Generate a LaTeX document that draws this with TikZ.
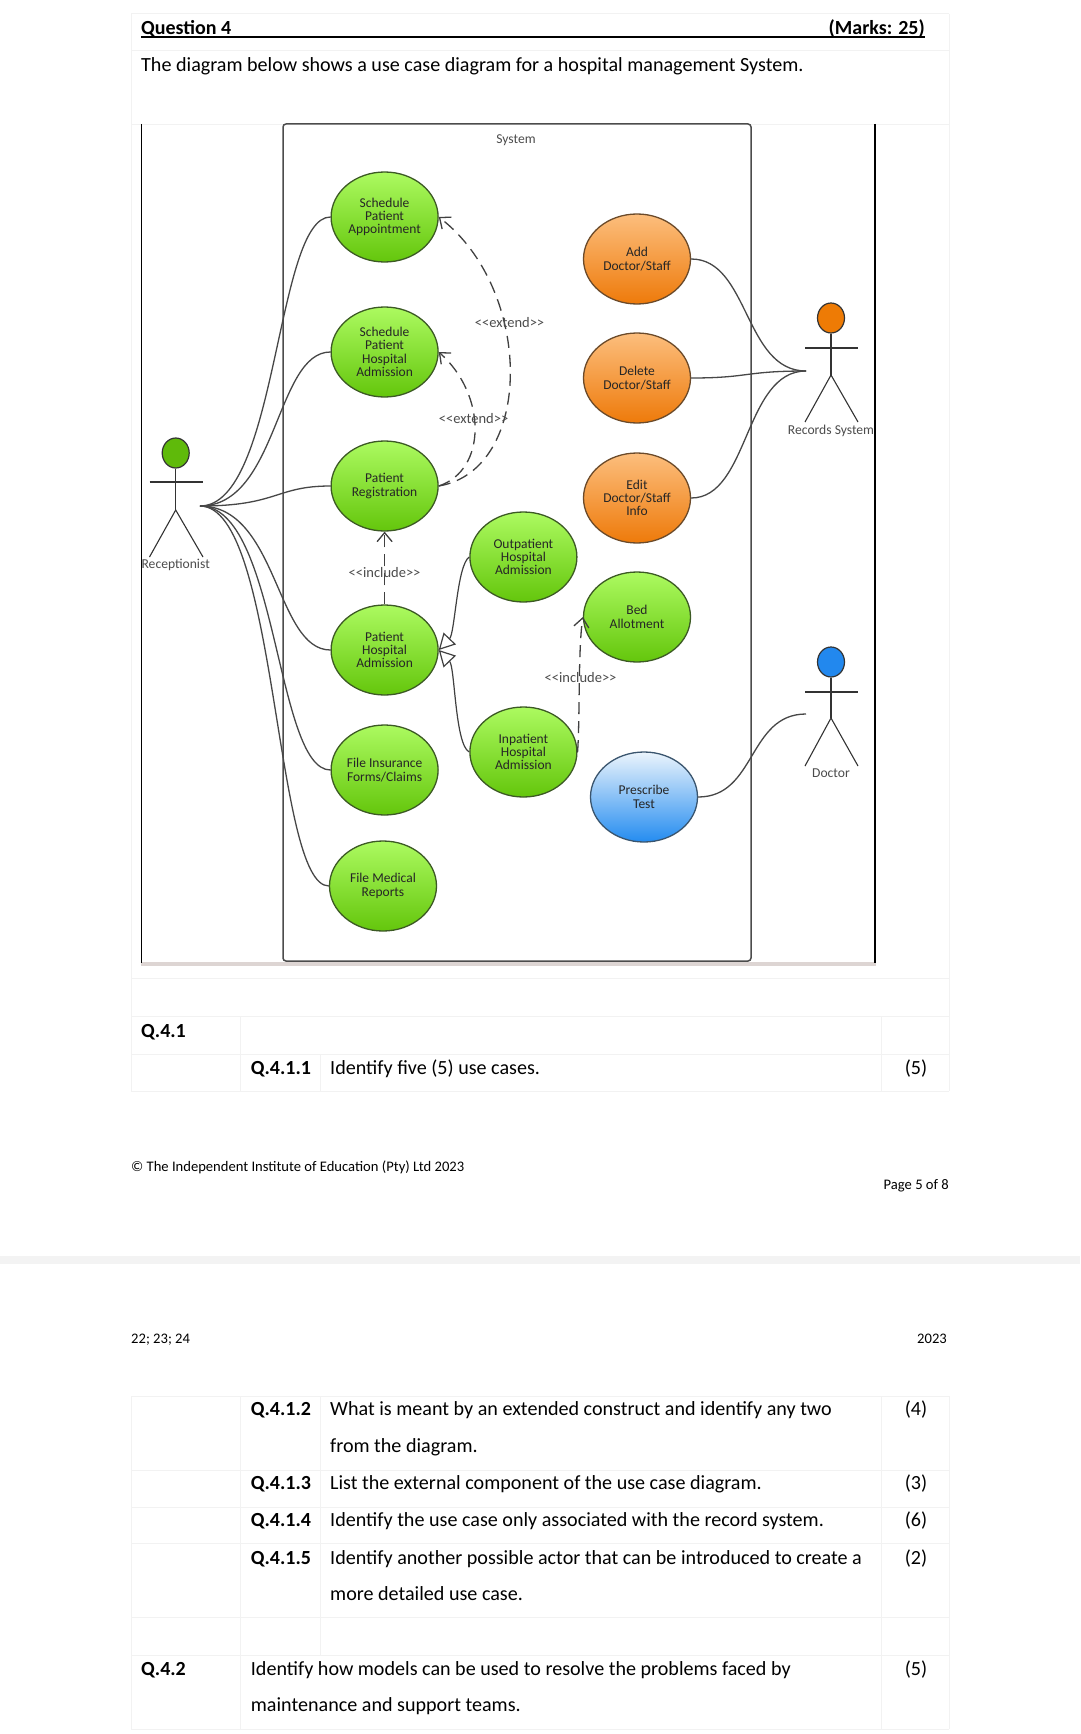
\documentclass[tikz,border=0pt]{standalone}
\usepackage{fontspec}
\setmainfont{Carlito}
\usepackage{tikz}
\usetikzlibrary{shapes.geometric, arrows.meta, positioning}
\definecolor{gridgray}{HTML}{F2F2F2}
\definecolor{bandgray}{HTML}{F3F3F3}
\definecolor{shadegray}{HTML}{DDD5D3}
\definecolor{edgegreen}{HTML}{3C5A24}
\definecolor{edgeorange}{HTML}{6B4A2A}
\definecolor{edgeblue}{HTML}{3A556E}
\tikzstyle{usecase} = [ellipse, draw, line width=1.3pt, minimum width=107pt, minimum height=90pt, inner sep=0pt, align=center, text=black!85, font=\fontsize{13.5}{13.3}\selectfont]
\tikzstyle{greencase} = [usecase, draw=edgegreen, top color={rgb,255:red,172;green,250;blue,96}, bottom color={rgb,255:red,100;green,198;blue,12}]
\tikzstyle{orangecase} = [usecase, draw=edgeorange, top color={rgb,255:red,252;green,190;blue,125}, bottom color={rgb,255:red,238;green,122;blue,10}]
\tikzstyle{bluecase} = [usecase, draw=edgeblue, top color={rgb,255:red,235;green,244;blue,252}, bottom color={rgb,255:red,36;green,140;blue,240}]
\tikzstyle{head} = [ellipse, draw=black!80, line width=1.2pt, minimum width=27pt, minimum height=30pt, inner sep=0pt]
\tikzstyle{limb} = [-, line width=1.1pt, black!80]
\tikzstyle{assoc} = [-, line width=1.3pt, black!72]
\tikzstyle{dep} = [-{Straight Barb[length=9pt,width=15pt]}, line width=1.3pt, black!75, dash pattern=on 12pt off 7pt]
\tikzstyle{gen} = [-{Triangle[open,fill=white,length=16pt,width=17pt]}, line width=1.2pt, black!75]
\tikzstyle{small} = [text=black!70, font=\fontsize{13.6}{14}\selectfont, inner sep=0pt]
\tikzstyle{deplabel} = [small, font=\fontsize{14.5}{14}\selectfont]
\tikzstyle{gridline} = [-, line width=1pt, gridgray]
\tikzstyle{txt} = [anchor=west, inner sep=0pt, font=\fontsize{20.1}{20}\selectfont, text height=17pt, text depth=4pt]
\tikzstyle{txtb} = [txt, font=\fontsize{20}{20}\selectfont\bfseries]
\tikzstyle{score} = [anchor=center, inner sep=0pt, font=\fontsize{20.1}{20}\selectfont, text height=17pt, text depth=4pt]
\tikzstyle{foot} = [inner sep=0pt, font=\fontsize{14.6}{16}\selectfont, text height=14pt, text depth=3pt]

\begin{document}
\begin{tikzpicture}[x=1pt, y=-1pt]

    \useasboundingbox (0, 0) rectangle (1080, 1734);
    \fill [white] (0, 0) rectangle (1080, 1734);

    \draw [gridline] (131, 14) -- (949, 14);
    \draw [gridline] (131, 51) -- (949, 51);
    \draw [gridline] (131, 125) -- (949, 125);
    \draw [gridline] (131, 978) -- (949, 978);
    \draw [gridline] (131, 1016) -- (949, 1016);
    \draw [gridline] (131, 1054) -- (949, 1054);
    \draw [gridline] (131, 1091) -- (949, 1091);
    \draw [gridline] (131, 14) -- (131, 1091);
    \draw [gridline] (949, 14) -- (949, 1091);
    \draw [gridline] (240.5, 1016) -- (240.5, 1091);
    \draw [gridline] (881, 1016) -- (881, 1091);
    \draw [gridline] (320, 1054) -- (320, 1091);

    \draw [gridline] (131, 1396) -- (949, 1396);
    \draw [gridline] (131, 1470) -- (949, 1470);
    \draw [gridline] (131, 1507) -- (949, 1507);
    \draw [gridline] (131, 1543) -- (949, 1543);
    \draw [gridline] (131, 1617) -- (949, 1617);
    \draw [gridline] (131, 1655) -- (949, 1655);
    \draw [gridline] (131, 1729) -- (949, 1729);
    \draw [gridline] (131, 1396) -- (131, 1729);
    \draw [gridline] (949, 1396) -- (949, 1729);
    \draw [gridline] (240.5, 1396) -- (240.5, 1729);
    \draw [gridline] (881, 1396) -- (881, 1729);
    \draw [gridline] (320, 1396) -- (320, 1655);

    \fill [bandgray] (0, 1256) rectangle (1080, 1264);

    \node [txtb] (qhead) at (141, 28) {Question 4};
    \node [txtb, anchor=east] (qmarks) at (925, 28) {(Marks: 25)};
    \coordinate (ruleL) at (141, 36.7);
    \coordinate (ruleR) at (925, 36.7);
    \draw [line width=1.8pt] (ruleL) -- (ruleR);
    \node [txt] (intro) at (141, 65) {The diagram below shows a use case diagram for a hospital management System.};

    \coordinate (frameTL) at (141.5, 124);
    \coordinate (frameBL) at (141.5, 963);
    \coordinate (frameTR) at (875, 124);
    \coordinate (frameBR) at (875, 963);
    \fill [shadegray] (141, 962) rectangle (876, 966);
    \draw [line width=1.5pt] (frameTL) -- (frameBL);
    \draw [line width=1.5pt] (frameTR) -- (frameBR);
    \draw [black!70, line width=1.5pt, rounded corners=3pt, fill=white] (283, 124) rectangle (751, 961);
    \node [small] (sysname) at (516, 140) {System};

    \node [greencase] (ucAppt) at (384.6, 217) {Schedule\\Patient\\Appointment};
    \node [greencase] (ucSched) at (384.6, 352) {Schedule\\Patient\\Hospital\\Admission};
    \node [greencase] (ucReg) at (384.6, 486) {Patient\\Registration};
    \node [greencase] (ucAdm) at (384.6, 650) {Patient\\Hospital\\Admission};
    \node [greencase] (ucIns) at (384.6, 770) {File Insurance\\Forms/Claims};
    \node [greencase] (ucMed) at (383, 886) {File Medical\\Reports};
    \node [greencase] (ucOut) at (523.4, 557) {Outpatient\\Hospital\\Admission};
    \node [greencase] (ucIn) at (523.4, 752) {Inpatient\\Hospital\\Admission};
    \node [greencase] (ucBed) at (637, 617) {Bed\\Allotment};
    \node [orangecase] (ucAdd) at (637, 259) {Add\\Doctor/Staff};
    \node [orangecase] (ucDel) at (637, 378) {Delete\\Doctor/Staff};
    \node [orangecase] (ucEdit) at (637, 498) {Edit\\Doctor/Staff\\Info};
    \node [bluecase] (ucTest) at (644, 797) {Prescribe\\Test};

    \node [head, fill={rgb,255:red,95;green,186;blue,10}] (headRec) at (175.7, 453) {};
    \coordinate (hipRec) at (175.7, 510);
    \coordinate (armRecL) at (149.5, 482);
    \coordinate (armRecR) at (203, 482);
    \coordinate (legRecL) at (149.5, 557);
    \coordinate (legRecR) at (203, 557);
    \draw [limb] (headRec) -- (hipRec);
    \draw [limb] (armRecL) -- (armRecR);
    \draw [limb] (legRecL) -- (hipRec) -- (legRecR);
    \node [small] (nameRec) at (175.7, 565) {Receptionist};

    \node [head, fill={rgb,255:red,238;green,123;blue,5}] (headSys) at (831, 318) {};
    \coordinate (hipSys) at (831, 375);
    \coordinate (armSysL) at (805, 348);
    \coordinate (armSysR) at (858, 348);
    \coordinate (legSysL) at (805, 422);
    \coordinate (legSysR) at (858, 422);
    \draw [limb] (headSys) -- (hipSys);
    \draw [limb] (armSysL) -- (armSysR);
    \draw [limb] (legSysL) -- (hipSys) -- (legSysR);
    \node [small] (nameSys) at (831, 431) {Records System};

    \node [head, fill={rgb,255:red,34;green,136;blue,238}] (headDoc) at (831, 662) {};
    \coordinate (hipDoc) at (831, 718);
    \coordinate (armDocL) at (805, 692);
    \coordinate (armDocR) at (858, 692);
    \coordinate (legDocL) at (805, 766);
    \coordinate (legDocR) at (858, 766);
    \draw [limb] (headDoc) -- (hipDoc);
    \draw [limb] (armDocL) -- (armDocR);
    \draw [limb] (legDocL) -- (hipDoc) -- (legDocR);
    \node [small] (nameDoc) at (831, 773) {Doctor};

    \coordinate (portRec) at (200, 506);
    \coordinate (portSys) at (806, 371);
    \coordinate (portDoc) at (806, 714);

    \draw [assoc] (portRec) .. controls +(78, 0) and +(-55, 0) .. (ucAppt.west);
    \draw [assoc] (portRec) .. controls +(78, 0) and +(-55, 0) .. (ucSched.west);
    \draw [assoc] (portRec) .. controls +(78, 0) and +(-55, 0) .. (ucReg.west);
    \draw [assoc] (portRec) .. controls +(78, 0) and +(-55, 0) .. (ucAdm.west);
    \draw [assoc] (portRec) .. controls +(78, 0) and +(-55, 0) .. (ucIns.west);
    \draw [assoc] (portRec) .. controls +(78, 0) and +(-55, 0) .. (ucMed.west);

    \draw [assoc] (ucAdd.east) .. controls +(58, 0) and +(-62, 0) .. (portSys);
    \draw [assoc] (ucDel.east) .. controls +(58, 0) and +(-62, 0) .. (portSys);
    \draw [assoc] (ucEdit.east) .. controls +(58, 0) and +(-62, 0) .. (portSys);
    \draw [assoc] (ucTest.east) .. controls +(58, 0) and +(-58, 0) .. (portDoc);

    \draw [dep] (ucReg.east) .. controls (534, 470) and (534, 290) .. (ucAppt.east);
    \draw [dep] (ucReg.east) .. controls (487, 470) and (487, 395) .. (ucSched.east);
    \draw [dep] (ucAdm.north) -- (ucReg.south);
    \draw [dep] (ucIn.east) .. controls (580, 720) and (578, 650) .. (ucBed.west);

    \draw [gen] (ucOut.west) .. controls (457, 565) and (455, 633) .. (ucAdm.east);
    \draw [gen] (ucIn.west) .. controls (455, 745) and (455, 667) .. (ucAdm.east);

    \node [deplabel] (extA) at (509.5, 323) {<{}<extend>{}>};
    \node [deplabel] (extB) at (473.6, 419) {<{}<extend>{}>};
    \node [deplabel] (incA) at (384.6, 573) {<{}<include>{}>};
    \node [deplabel] (incB) at (580.6, 678) {<{}<include>{}>};

    \node [txtb] (q41) at (141, 1030.7) {Q.4.1};
    \node [txtb] (q411) at (250.7, 1067.7) {Q.4.1.1};
    \node [txt] (t411) at (330, 1067.7) {Identify five (5) use cases.};
    \node [score] (m411) at (916, 1067.7) {(5)};

    \node [foot, anchor=west] (copy) at (131, 1166) {© The Independent Institute of Education (Pty) Ltd 2023};
    \node [foot, anchor=east] (page) at (949, 1184) {Page 5 of 8};
    \node [foot, anchor=west] (dates) at (131, 1338) {22; 23; 24};
    \node [foot, anchor=east] (year) at (947, 1338) {2023};

    \node [txtb] (q412) at (250.7, 1408.7) {Q.4.1.2};
    \node [txt] (t412) at (330, 1408.7) {What is meant by an extended construct and identify any two};
    \node [txt] (t412b) at (330, 1445.7) {from the diagram.};
    \node [score] (m412) at (916, 1408.7) {(4)};
    \node [txtb] (q413) at (250.7, 1482.7) {Q.4.1.3};
    \node [txt] (t413) at (330, 1482.7) {List the external component of the use case diagram.};
    \node [score] (m413) at (916, 1482.7) {(3)};
    \node [txtb] (q414) at (250.7, 1520) {Q.4.1.4};
    \node [txt] (t414) at (330, 1520) {Identify the use case only associated with the record system.};
    \node [score] (m414) at (916, 1520) {(6)};
    \node [txtb] (q415) at (250.7, 1557.7) {Q.4.1.5};
    \node [txt] (t415) at (330, 1557.7) {Identify another possible actor that can be introduced to create a};
    \node [txt] (t415b) at (330, 1594) {more detailed use case.};
    \node [score] (m415) at (916, 1557.7) {(2)};
    \node [txtb] (q42) at (141, 1669) {Q.4.2};
    \node [txt] (t42) at (250.7, 1669) {Identify how models can be used to resolve the problems faced by};
    \node [txt] (t42b) at (250.7, 1705) {maintenance and support teams.};
    \node [score] (m42) at (916, 1669) {(5)};

\end{tikzpicture}
\end{document}
